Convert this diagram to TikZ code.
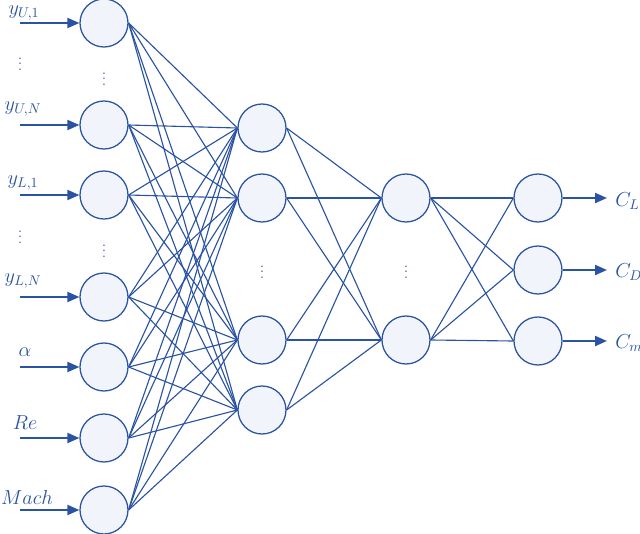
\documentclass[tikz,border=0pt]{standalone}
\definecolor{nnblue}{HTML}{2A53A1}
\definecolor{nnlight}{HTML}{F1F5FB}
\usepackage{amsmath}
\usepackage{xcolor}
\usepackage{tikz}
\usetikzlibrary{arrows.meta, positioning, calc}

\begin{document}
\begin{tikzpicture}[x=0.025cm, y=-0.025cm,
    neuron/.style={circle, draw=nnblue, fill=nnlight, line width=0.9pt, minimum size=1.2cm, inner sep=0pt},
    link/.style={nnblue, line width=0.8pt},
    feed/.style={-{Triangle[length=3mm, width=2.5mm]}, nnblue, line width=1.5pt},
    lbl/.style={text=nnblue, font=\fontsize{14}{16}\selectfont, inner sep=0pt},
    vdot/.style={text=nnblue, font=\normalsize, inner sep=0pt}]
      \useasboundingbox (0,0) rectangle (640,534);

      % Input layer
      \node[neuron] (i1) at (104,23) {};
      \node[neuron] (i2) at (104,125) {};
      \node[neuron] (i3) at (104,195) {};
      \node[neuron] (i4) at (104,297) {};
      \node[neuron] (i5) at (104,367) {};
      \node[neuron] (i6) at (104,438) {};
      \node[neuron] (i7) at (104,510) {};
      \node[vdot] (d1) at (104,75) {$\vdots$};
      \node[vdot] (d2) at (104,247) {$\vdots$};

      % Hidden layers
      \node[neuron] (h1) at (262,128) {};
      \node[neuron] (h2) at (262,198) {};
      \node[neuron] (h3) at (262,340) {};
      \node[neuron] (h4) at (262,410) {};
      \node[vdot] (d3) at (262,268) {$\vdots$};

      \node[neuron] (g1) at (406,198) {};
      \node[neuron] (g2) at (406,340) {};
      \node[vdot] (d4) at (406,268) {$\vdots$};

      % Output layer
      \node[neuron] (o1) at (538,198) {};
      \node[neuron] (o2) at (538,270) {};
      \node[neuron] (o3) at (538,341) {};

      % Weights
      \foreach \a in {1,...,7}
        \foreach \b in {1,...,4}
          \draw[link] (i\a.east) -- (h\b.west);
      \foreach \a in {1,...,4}
        \foreach \b in {1,2}
          \draw[link] (h\a.east) -- (g\b.west);
      \foreach \a in {1,2}
        \foreach \b in {1,2,3}
          \draw[link] (g\a.east) -- (o\b.west);

      % Inputs
      \foreach \k/\y in {1/23, 2/125, 3/195, 4/297, 5/367, 6/438, 7/510}
        \coordinate (s\k) at (20,\y);
      \foreach \k in {1,...,7}
        \draw[feed] (s\k) -- (i\k.west);
      \node[lbl] (x1) at (24,13) {$y_{U,1}$};
      \node[lbl] (x2) at (23,109) {$y_{U,N}$};
      \node[lbl] (x3) at (23,183) {$y_{L,1}$};
      \node[lbl] (x4) at (23,281) {$y_{L,N}$};
      \node[lbl] (x5) at (25,352) {$\alpha$};
      \node[lbl] (x6) at (25,423) {$Re$};
      \node[lbl] (x7) at (27,497) {$Mach$};
      \node[vdot] (d5) at (20,60) {$\vdots$};
      \node[vdot] (d6) at (20,233) {$\vdots$};

      % Outputs
      \foreach \k/\y in {1/198, 2/270, 3/341}
        \coordinate (t\k) at (607,\y);
      \foreach \k in {1,2,3}
        \draw[feed] (o\k.east) -- (t\k);
      \node[lbl, anchor=west] (c1) at (615,201) {$C_L$};
      \node[lbl, anchor=west] (c2) at (615,272) {$C_D$};
      \node[lbl, anchor=west] (c3) at (615,343) {$C_m$};
    \end{tikzpicture}
\end{document}
